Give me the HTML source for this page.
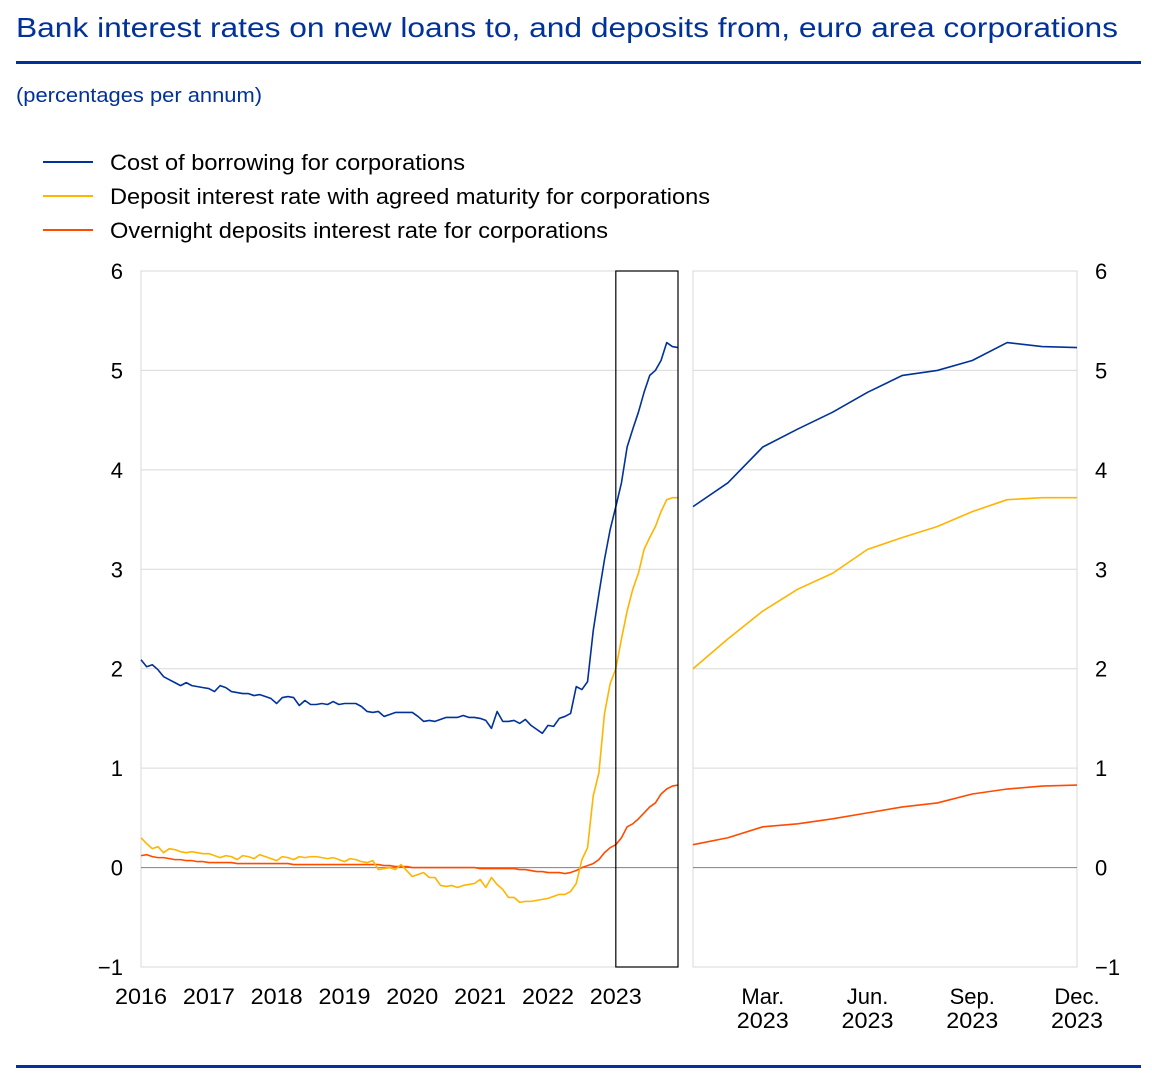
<!DOCTYPE html>
<html><head><meta charset="utf-8"><style>
html,body{margin:0;padding:0;background:#fff;}
svg{display:block;font-family:"Liberation Sans",Arial,sans-serif;}
</style></head><body>
<svg id="chart" width="1152" height="1078" viewBox="0 0 1152 1078">
<text x="16" y="37" font-size="28" fill="#003299" textLength="1102" lengthAdjust="spacingAndGlyphs">Bank interest rates on new loans to, and deposits from, euro area corporations</text>
<rect x="16" y="61" width="1125" height="3" fill="#003299"/>
<text x="16" y="102" font-size="20" fill="#003299" textLength="246" lengthAdjust="spacingAndGlyphs">(percentages per annum)</text>
<g>
<g><line x1="43" y1="162" x2="93" y2="162" stroke="#003299" stroke-width="2"/><text x="110" y="170" font-size="22" fill="#000" textLength="355" lengthAdjust="spacingAndGlyphs">Cost of borrowing for corporations</text></g>
<g><line x1="43" y1="196" x2="93" y2="196" stroke="#ffb400" stroke-width="2"/><text x="110" y="204" font-size="22" fill="#000" textLength="600" lengthAdjust="spacingAndGlyphs">Deposit interest rate with agreed maturity for corporations</text></g>
<g><line x1="43" y1="230" x2="93" y2="230" stroke="#ff4b00" stroke-width="2"/><text x="110" y="238" font-size="22" fill="#000" textLength="498" lengthAdjust="spacingAndGlyphs">Overnight deposits interest rate for corporations</text></g>
</g>
<g id="plots"></g>
<rect x="16" y="1065" width="1125" height="3" fill="#003299"/>
</svg>
<script>
const yTicks = [-1, 0, 1, 2, 3, 4, 5, 6];
const yearLabels = ["2016","2017","2018","2019","2020","2021","2022","2023"];
const zoomLabels = [["Mar.","2023"],["Jun.","2023"],["Sep.","2023"],["Dec.","2023"]];
const zoomLabelMonths = [2, 5, 8, 11];
const borrowing = [2.09,2.02,2.04,1.99,1.92,1.89,1.86,1.83,1.86,1.83,1.82,1.81,
1.80,1.77,1.83,1.81,1.77,1.76,1.75,1.75,1.73,1.74,1.72,1.70,
1.65,1.71,1.72,1.71,1.63,1.68,1.64,1.64,1.65,1.64,1.67,1.64,
1.65,1.65,1.65,1.62,1.57,1.56,1.57,1.52,1.54,1.56,1.56,1.56,
1.56,1.52,1.47,1.48,1.47,1.49,1.51,1.51,1.51,1.53,1.51,1.51,
1.50,1.48,1.40,1.57,1.47,1.47,1.48,1.45,1.49,1.43,1.39,1.35,
1.43,1.42,1.50,1.52,1.55,1.82,1.79,1.87,2.38,2.75,3.10,3.40,
3.63,3.87,4.23,4.41,4.58,4.78,4.95,5.00,5.10,5.28,5.24,5.23];
const depositAgreed = [0.30,0.24,0.19,0.21,0.15,0.19,0.18,0.16,0.15,0.16,0.15,0.14,
0.14,0.12,0.10,0.12,0.11,0.08,0.12,0.11,0.09,0.13,0.11,0.09,
0.07,0.11,0.10,0.08,0.11,0.10,0.11,0.11,0.10,0.09,0.10,0.08,
0.06,0.09,0.08,0.06,0.05,0.07,-0.02,-0.01,0.00,-0.02,0.03,-0.03,
-0.09,-0.07,-0.05,-0.10,-0.10,-0.18,-0.19,-0.18,-0.20,-0.18,-0.17,-0.16,
-0.12,-0.20,-0.10,-0.17,-0.22,-0.30,-0.30,-0.35,-0.34,-0.34,-0.33,-0.32,
-0.31,-0.29,-0.27,-0.27,-0.24,-0.16,0.08,0.20,0.72,0.95,1.55,1.85,
2.00,2.30,2.58,2.80,2.96,3.20,3.32,3.43,3.58,3.70,3.72,3.72];
const overnight = [0.12,0.13,0.11,0.10,0.10,0.09,0.08,0.08,0.07,0.07,0.06,0.06,
0.05,0.05,0.05,0.05,0.05,0.04,0.04,0.04,0.04,0.04,0.04,0.04,
0.04,0.04,0.04,0.03,0.03,0.03,0.03,0.03,0.03,0.03,0.03,0.03,
0.03,0.03,0.03,0.03,0.03,0.03,0.03,0.02,0.02,0.01,0.01,0.01,
0.00,0.00,0.00,0.00,0.00,0.00,0.00,0.00,0.00,0.00,0.00,0.00,
-0.01,-0.01,-0.01,-0.01,-0.01,-0.01,-0.01,-0.02,-0.02,-0.03,-0.04,-0.04,
-0.05,-0.05,-0.05,-0.06,-0.05,-0.03,0.00,0.02,0.04,0.08,0.15,0.20,
0.23,0.30,0.41,0.44,0.49,0.55,0.61,0.65,0.74,0.79,0.82,0.83];

const NS = "http://www.w3.org/2000/svg";
const g = document.getElementById("plots");
const top0 = 271, bot0 = 967;
function y(v){ return bot0 - (v - yTicks[0]) / (yTicks[yTicks.length-1] - yTicks[0]) * (bot0 - top0); }
const L = {x0:141, x1:678}, R = {x0:693, x1:1077};
function xL(i){ return L.x0 + i * (L.x1 - L.x0) / (borrowing.length - 1); }
const zStart = borrowing.length - 12;
function xR(k){ return R.x0 + k * (R.x1 - R.x0) / 11; }
function mk(tag, attrs){ const e = document.createElementNS(NS, tag); for (const k in attrs) e.setAttribute(k, attrs[k]); g.appendChild(e); return e; }

[L, R].forEach(function(p, pi){
  const fr = mk("rect", {x:p.x0, y:top0, width:p.x1-p.x0, height:bot0-top0, fill:"none", stroke:"#d9d9d9", "stroke-width":1});
  
  
  yTicks.forEach(function(t){
    if (t === yTicks[0] || t === yTicks[yTicks.length-1]) return;
    const ln = mk("line", {x1:p.x0, x2:p.x1, y1:y(t), y2:y(t), stroke: t === 0 ? "#808080" : "#d9d9d9", "stroke-width":1});
    
    
  });
});
yTicks.forEach(function(t){
  const lab = t < 0 ? "\u2212" + Math.abs(t) : String(t);
  const a = mk("text", {x:123, y:y(t)+8, "font-size":22, "text-anchor":"end", fill:"#000"});
  a.textContent = lab;
  
  
  const b = mk("text", {x:1095, y:y(t)+8, "font-size":22, "text-anchor":"start", fill:"#000"});
  b.textContent = lab;
  
  
});
yearLabels.forEach(function(lab, i){
  const t = mk("text", {x:xL(i*12), y:1004, "font-size":22, "text-anchor":"middle", fill:"#000", textLength:52, lengthAdjust:"spacingAndGlyphs"});
  t.textContent = lab;
  
  
});
zoomLabels.forEach(function(lab, i){
  const t1 = mk("text", {x:xR(zoomLabelMonths[i]), y:1004, "font-size":22, "text-anchor":"middle", fill:"#000"});
  t1.textContent = lab[0];
  
  
  const t2 = mk("text", {x:xR(zoomLabelMonths[i]), y:1028, "font-size":22, "text-anchor":"middle", fill:"#000", textLength:52, lengthAdjust:"spacingAndGlyphs"});
  t2.textContent = lab[1];
  
  
});
const series = [[overnight, "#ff4b00", "overnight"], [depositAgreed, "#ffb400", "deposit-agreed"], [borrowing, "#003299", "borrowing"]];
series.forEach(function(s){
  const d1 = s[0].map(function(v, i){ return (i ? "L" : "M") + xL(i).toFixed(2) + "," + y(v).toFixed(2); }).join("");
  const p1 = mk("path", {d:d1, fill:"none", stroke:s[1], "stroke-width":1.6, "stroke-linejoin":"round"});
  
  
  const d2 = s[0].slice(zStart).map(function(v, k){ return (k ? "L" : "M") + xR(k).toFixed(2) + "," + y(v).toFixed(2); }).join("");
  const p2 = mk("path", {d:d2, fill:"none", stroke:s[1], "stroke-width":1.6, "stroke-linejoin":"round"});
  
  
});
const box = mk("rect", {x:xL(zStart), y:top0, width:L.x1 - xL(zStart), height:bot0-top0, fill:"none", stroke:"#000", "stroke-width":1.2});


</script>
</body></html>
